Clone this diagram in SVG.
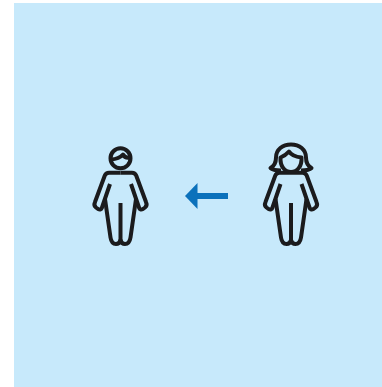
<svg xmlns="http://www.w3.org/2000/svg" width="382" height="387" viewBox="0 0 382 387">
<style>
.l{fill:none;stroke:#1b1b1d;stroke-width:4;stroke-linejoin:round;stroke-linecap:butt}
</style>
<defs>
<g id="body">
<path class="l" d="M0 172.700H-11.500Q-14.500 172.700-15.700 175.500L-25.500 202Q-27 205.500-24.500 207.500L-22.500 209Q-19.500 210.500-18.500 207.500L-10.500 184"/>
<path class="l" d="M0 172.700H11.500Q14.500 172.700 15.700 175.500L25.500 202Q27 205.500 24.500 207.500L22.500 209Q19.500 210.500 18.500 207.500L10.500 184"/>
<path class="l" d="M-15.500 199L-10 237.500Q-9 244-4.500 244Q-1 244 0 240Q1 244 4.500 244Q9 244 10 237.500L15.500 199"/>
<path class="l" d="M0 203V241"/>
</g>
</defs>
<rect x="14" y="3" width="368" height="384" fill="#c7e9fb"/>
<g id="man">
<use href="#body" x="120.500"/>
<circle class="l" cx="120.500" cy="158.300" r="10"/>
<path class="l" d="M111 159.500Q119 159 123 154.500Q125 158.500 130 157.500"/>
</g>
<g id="woman">
<use href="#body" x="291"/>
<path class="l" d="M280.500 157.500Q285.500 155.500 289 151.500Q292 156.500 301.500 157.500C302 166 297.500 172 291 172C284.500 172 280 166 280.500 157.500Z"/>
<path class="l" d="M281 170.500Q273 170.500 270.500 168Q276 165 276 157.500C276 149.500 282.500 144.500 291 144.500C299.500 144.500 306 149.500 306 157.500Q306 165 311.500 168Q309 170.500 301 170.500"/>
</g>
<g id="connectors">
<path d="M228 196H197" stroke="#0b71bb" stroke-width="6" fill="none"/>
<path d="M185 196L197.500 183V209Z" fill="#0b71bb"/>
</g>
</svg>
